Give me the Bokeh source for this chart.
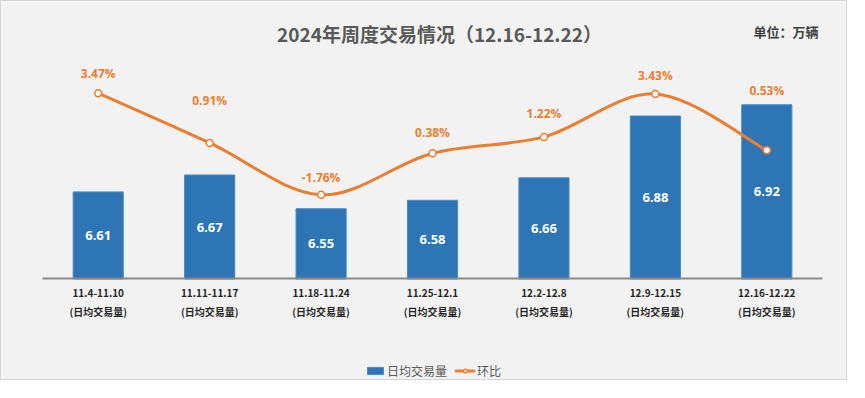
import numpy as np
from bokeh.plotting import figure
from bokeh.models import Range1d, FixedTicker, Label, Legend, LegendItem
from bokeh.core.properties import value
from bokeh.embed import file_html
from bokeh.resources import INLINE

# ---------------- data ----------------
weeks = ["11.4-11.10", "11.11-11.17", "11.18-11.24", "11.25-12.1",
         "12.2-12.8", "12.9-12.15", "12.16-12.22"]
tick_suffix = "(日均交易量)"
daily_volume = [6.61, 6.67, 6.55, 6.58, 6.66, 6.88, 6.92]
wow_change = [3.47, 0.91, -1.76, 0.38, 1.22, 3.43, 0.53]
title_text = "2024年周度交易情况（12.16-12.22）"
unit_text = "单位：万辆"
bar_series_name = "日均交易量"
line_series_name = "环比"

# ---------------- style ----------------
pct_label_lift = [20, 42, 17, 21, 23, 18, 60]   # px above each point
BLUE = "#2E75B6"
ORANGE = "#ED7D31"
BG = "#F2F2F2"
CJK = "Noto Sans CJK SC"
NUM = "Open Sans"
W, H = 847, 380

x = np.arange(len(weeks), dtype=float)
vol = np.array(daily_volume)
pct = np.array(wow_change)

base = 6.3  # value axis baseline
vol_range = Range1d(5.9352, 7.2875)
p = figure(width=W, height=H, output_backend="svg", toolbar_location=None,
           x_range=Range1d(-0.868, 6.733), y_range=vol_range,
           x_axis_location="below", y_axis_location=None,
           min_border=0, min_border_left=0, min_border_right=0,
           min_border_top=0, min_border_bottom=0,
           background_fill_color=BG, border_fill_color=BG,
           outline_line_color=None)
p.styles = {"border": "1px solid #D4D4D4"}
p.extra_y_ranges = {"pct": Range1d(-11.369, 8.188)}
p.grid.visible = False

ax = p.xaxis[0]
ax.fixed_location = base
ax.bounds = (-0.5, len(weeks) - 0.5)
ax.ticker = FixedTicker(ticks=list(x))
ax.major_label_overrides = {float(i): f"{w}\n{tick_suffix}" for i, w in zip(x, weeks)}
ax.axis_line_color = "#898989"
ax.axis_line_width = 2
ax.major_tick_line_color = None
ax.minor_tick_line_color = None
ax.major_tick_out = 0
ax.major_tick_in = 0
ax.major_label_standoff = 6
ax.major_label_text_font = CJK
ax.major_label_text_font_size = "10px"
ax.major_label_text_font_style = "bold"
ax.major_label_text_color = "#262626"
ax.major_label_text_line_height = 1.27

# bars
bars = p.vbar(x=x, top=vol, bottom=base, width=0.45, fill_color=BLUE,
              line_color="#4A8AC6", line_width=1)
p.text(x=x, y=(vol + base) / 2, text=[f"{v:.2f}" for v in vol],
       text_align="center", text_baseline="middle", text_color="white",
       text_font=value(NUM), text_font_style="bold", text_font_size="13px")

# smoothed line (cubic bezier through the data points)
P = np.column_stack([x, pct])
prev = np.vstack([P[:1], P[:-1]])
nxt = np.vstack([P[1:], P[-1:]])
tan = (nxt - prev) / 6.0
c0 = P[:-1] + tan[:-1]
c1 = P[1:] - tan[1:]
curve = p.bezier(x0=P[:-1, 0], y0=P[:-1, 1], x1=P[1:, 0], y1=P[1:, 1],
                 cx0=c0[:, 0], cy0=c0[:, 1], cx1=c1[:, 0], cy1=c1[:, 1],
                 line_color=ORANGE, line_width=3, line_cap="round",
                 y_range_name="pct")
pts = p.scatter(x=x, y=pct, size=7, fill_color="white", line_color=ORANGE,
                line_width=1.5, y_range_name="pct")
p.text(x=x, y=pct, text=[f"{v:.2f}%" for v in pct],
       y_offset=[-d for d in pct_label_lift], y_range_name="pct",
       text_align="center", text_baseline="middle", text_color=ORANGE,
       text_font=value(NUM), text_font_style="bold", text_font_size="12px")

# title & unit (screen units measured from the frame's bottom-left)
p.add_layout(Label(x=438, y=H - 32, x_units="screen", y_units="screen",
                   text=title_text, text_align="center", text_baseline="middle",
                   text_font=CJK, text_font_size="19px", text_font_style="bold",
                   text_color="#595959"))
p.add_layout(Label(x=752, y=H - 30, x_units="screen", y_units="screen",
                   text=unit_text, text_align="left", text_baseline="middle",
                   text_font=CJK, text_font_size="13px", text_font_style="bold",
                   text_color="#404040"))

legend = Legend(items=[LegendItem(label=bar_series_name, renderers=[bars]),
                       LegendItem(label=line_series_name, renderers=[curve, pts])],
                location=(364, 2), orientation="horizontal",
                padding=0, margin=0, spacing=8, label_standoff=2,
                glyph_width=20, glyph_height=9, label_height=16,
                label_text_font=CJK, label_text_font_size="12px",
                label_text_color="#595959",
                background_fill_alpha=0, border_line_color=None)
p.add_layout(legend)

open("out.html", "w").write(file_html(p, INLINE))
